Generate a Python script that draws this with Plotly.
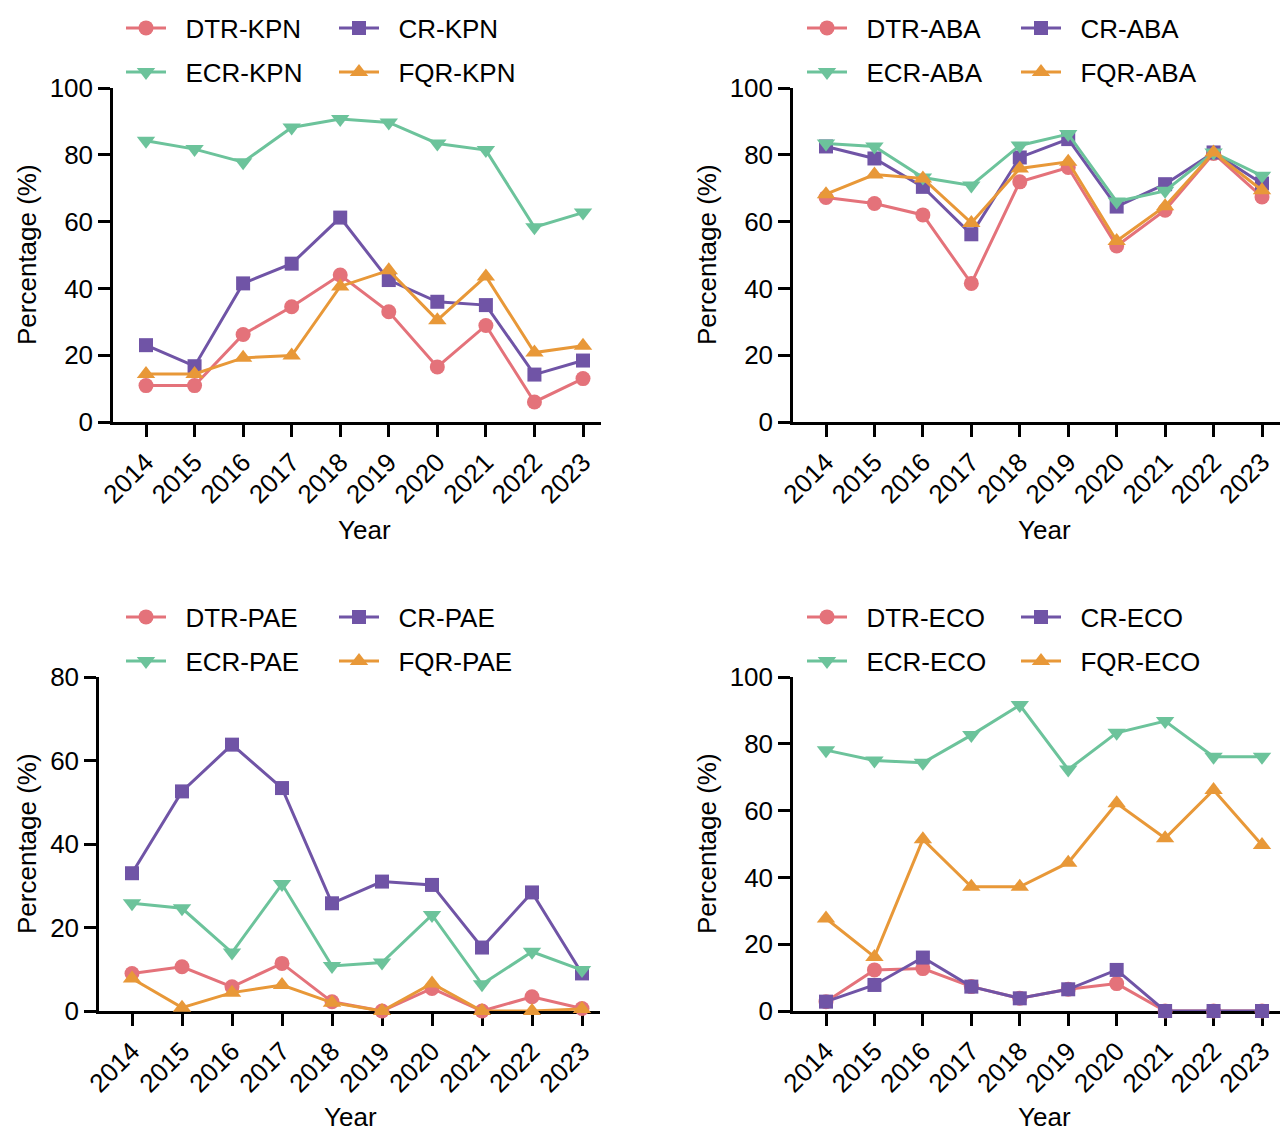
import plotly.graph_objects as go

years = [2014, 2015, 2016, 2017, 2018, 2019, 2020, 2021, 2022, 2023]

# KPN
kpn_dtr = [10.9, 10.9, 26.2, 34.5, 44.0, 33.0, 16.5, 28.9, 6.0, 13.0]
kpn_cr = [23.0, 16.7, 41.5, 47.4, 61.2, 42.5, 36.0, 35.0, 14.2, 18.4]
kpn_ecr = [84.2, 81.7, 77.8, 88.2, 90.7, 89.7, 83.4, 81.4, 58.3, 62.7]
kpn_fqr = [14.4, 14.4, 19.2, 19.9, 40.6, 45.4, 30.5, 43.6, 20.8, 22.8]

# ABA
aba_dtr = [67.2, 65.4, 62.0, 41.5, 71.9, 76.2, 52.7, 63.4, 80.4, 67.4]
aba_cr = [82.5, 78.9, 70.4, 56.2, 79.2, 84.7, 64.5, 71.2, 80.7, 71.4]
aba_ecr = [83.4, 82.5, 73.2, 70.8, 82.8, 86.2, 66.0, 69.2, 80.7, 73.7]
aba_fqr = [68.2, 74.1, 72.9, 59.6, 75.9, 77.9, 54.2, 64.6, 80.7, 69.4]

# PAE
pae_dtr = [9.0, 10.6, 5.8, 11.4, 2.2, 0.0, 5.4, 0.0, 3.4, 0.6]
pae_cr = [33.0, 52.6, 63.8, 53.4, 25.8, 31.0, 30.2, 15.2, 28.4, 9.0]
pae_ecr = [25.8, 24.6, 14.0, 30.4, 10.8, 11.6, 23.0, 6.4, 14.2, 9.8]
pae_fqr = [7.8, 0.8, 4.4, 6.2, 2.0, 0.0, 6.6, 0.0, 0.0, 0.5]

# ECO
eco_dtr = [2.8, 12.3, 12.7, 7.3, 3.8, 6.5, 8.2, 0.0, 0.0, 0.0]
eco_cr = [2.8, 7.8, 16.0, 7.3, 3.8, 6.5, 12.3, 0.0, 0.0, 0.0]
eco_ecr = [78.1, 75.0, 74.3, 82.6, 91.6, 72.3, 83.3, 86.8, 76.1, 76.1]
eco_fqr = [27.7, 16.2, 51.4, 37.2, 37.2, 44.4, 62.2, 51.7, 66.2, 49.7]

W, H = 1286, 1131
FONT = "Arial, Liberation Sans, sans-serif"
FS = 26
colors = {"DTR": "#E4727A", "CR": "#7054A6", "ECR": "#6CC39B", "FQR": "#E89838"}
symbols = {"DTR": "circle", "CR": "square", "ECR": "triangle-down", "FQR": "triangle-up"}
msize = {"DTR": 15, "CR": 14, "ECR": 16, "FQR": 16}

panels = [
    dict(tag="KPN", data={"DTR": kpn_dtr, "CR": kpn_cr, "ECR": kpn_ecr, "FQR": kpn_fqr},
         xd=(113, 601), yd=(88, 422), ymax=100, legtext=(185, 398), legy=(28, 72),
         ytx=27, year=(365, 530)),
    dict(tag="ABA", data={"DTR": aba_dtr, "CR": aba_cr, "ECR": aba_ecr, "FQR": aba_fqr},
         xd=(793, 1280), yd=(88, 422), ymax=100, legtext=(866, 1080), legy=(28, 72),
         ytx=707, year=(1044, 530)),
    dict(tag="PAE", data={"DTR": pae_dtr, "CR": pae_cr, "ECR": pae_ecr, "FQR": pae_fqr},
         xd=(99, 600), yd=(677, 1011), ymax=80, legtext=(185, 398), legy=(617, 661),
         ytx=27, year=(350, 1117)),
    dict(tag="ECO", data={"DTR": eco_dtr, "CR": eco_cr, "ECR": eco_ecr, "FQR": eco_fqr},
         xd=(793, 1280), yd=(677, 1011), ymax=100, legtext=(866, 1080), legy=(617, 661),
         ytx=707, year=(1044, 1117)),
]

fig = go.Figure()
annotations = []
layout = {}
leg_n = 0
order = ["DTR", "CR", "ECR", "FQR"]
legpos = {"DTR": (0, 0), "CR": (1, 0), "ECR": (0, 1), "FQR": (1, 1)}
NB = "\u00a0\u00a0"
for i, p in enumerate(panels):
    n = i + 1
    xa = "x" if n == 1 else f"x{n}"
    ya = "y" if n == 1 else f"y{n}"
    xk = "xaxis" if n == 1 else f"xaxis{n}"
    yk = "yaxis" if n == 1 else f"yaxis{n}"
    x0, x1 = p["xd"]
    yt, yb = p["yd"]
    tick0 = x0 + 33
    tickN = x1 - 18
    step = (tickN - tick0) / 9.0
    rlo = 2014 - 33 / step
    rhi = 2014 + (x1 - tick0) / step
    layout[xk] = dict(domain=[x0 / W, x1 / W], anchor=ya, range=[rlo, rhi],
                      tickvals=years, ticktext=[str(y) for y in years], tickangle=-45,
                      showline=True, linecolor="black", linewidth=2.5, ticks="outside",
                      ticklen=12, tickwidth=2.5, tickcolor="black", showgrid=False,
                      zeroline=False, tickfont=dict(family=FONT, size=FS, color="black"),
                      automargin=False, layer="below traces", fixedrange=True)
    layout[yk] = dict(domain=[1 - yb / H, 1 - yt / H], anchor=xa, range=[0, p["ymax"]],
                      tickvals=list(range(0, p["ymax"] + 1, 20)),
                      showline=True, linecolor="black", linewidth=2.5, ticks="outside",
                      ticklen=12, tickwidth=2.5, tickcolor="black", showgrid=False,
                      zeroline=False, tickfont=dict(family=FONT, size=FS, color="black"),
                      automargin=False, layer="below traces", fixedrange=True)
    for s in order:
        leg_n += 1
        lid = "legend" if leg_n == 1 else f"legend{leg_n}"
        col, row = legpos[s]
        fig.add_trace(go.Scatter(
            x=years, y=p["data"][s], xaxis=xa, yaxis=ya, mode="lines+markers",
            name=f"{NB}{s}-{p['tag']}", legend=lid, cliponaxis=False, showlegend=True,
            line=dict(color=colors[s], width=3),
            marker=dict(symbol=symbols[s], size=msize[s], color=colors[s], line=dict(width=0)),
        ))
        layout[lid] = dict(x=(p["legtext"][col] - 64) / W, y=1 - p["legy"][row] / H,
                           xanchor="left", yanchor="middle", bgcolor="rgba(0,0,0,0)",
                           font=dict(family=FONT, size=FS, color="black"),
                           itemwidth=40, borderwidth=0, visible=True)
    annotations.append(dict(x=p["ytx"] / W, y=1 - ((yt + yb) / 2) / H, xref="paper", yref="paper",
                            text="Percentage (%)", textangle=-90, showarrow=False,
                            font=dict(family=FONT, size=FS, color="black"),
                            xanchor="center", yanchor="middle"))
    annotations.append(dict(x=p["year"][0] / W, y=1 - p["year"][1] / H, xref="paper", yref="paper",
                            text="Year", showarrow=False,
                            font=dict(family=FONT, size=FS, color="black"),
                            xanchor="center", yanchor="middle"))

fig.update_layout(width=W, height=H, margin=dict(l=0, r=0, t=0, b=0),
                  paper_bgcolor="white", plot_bgcolor="white", showlegend=True,
                  annotations=annotations, **layout)
fig.write_html("out.html")
